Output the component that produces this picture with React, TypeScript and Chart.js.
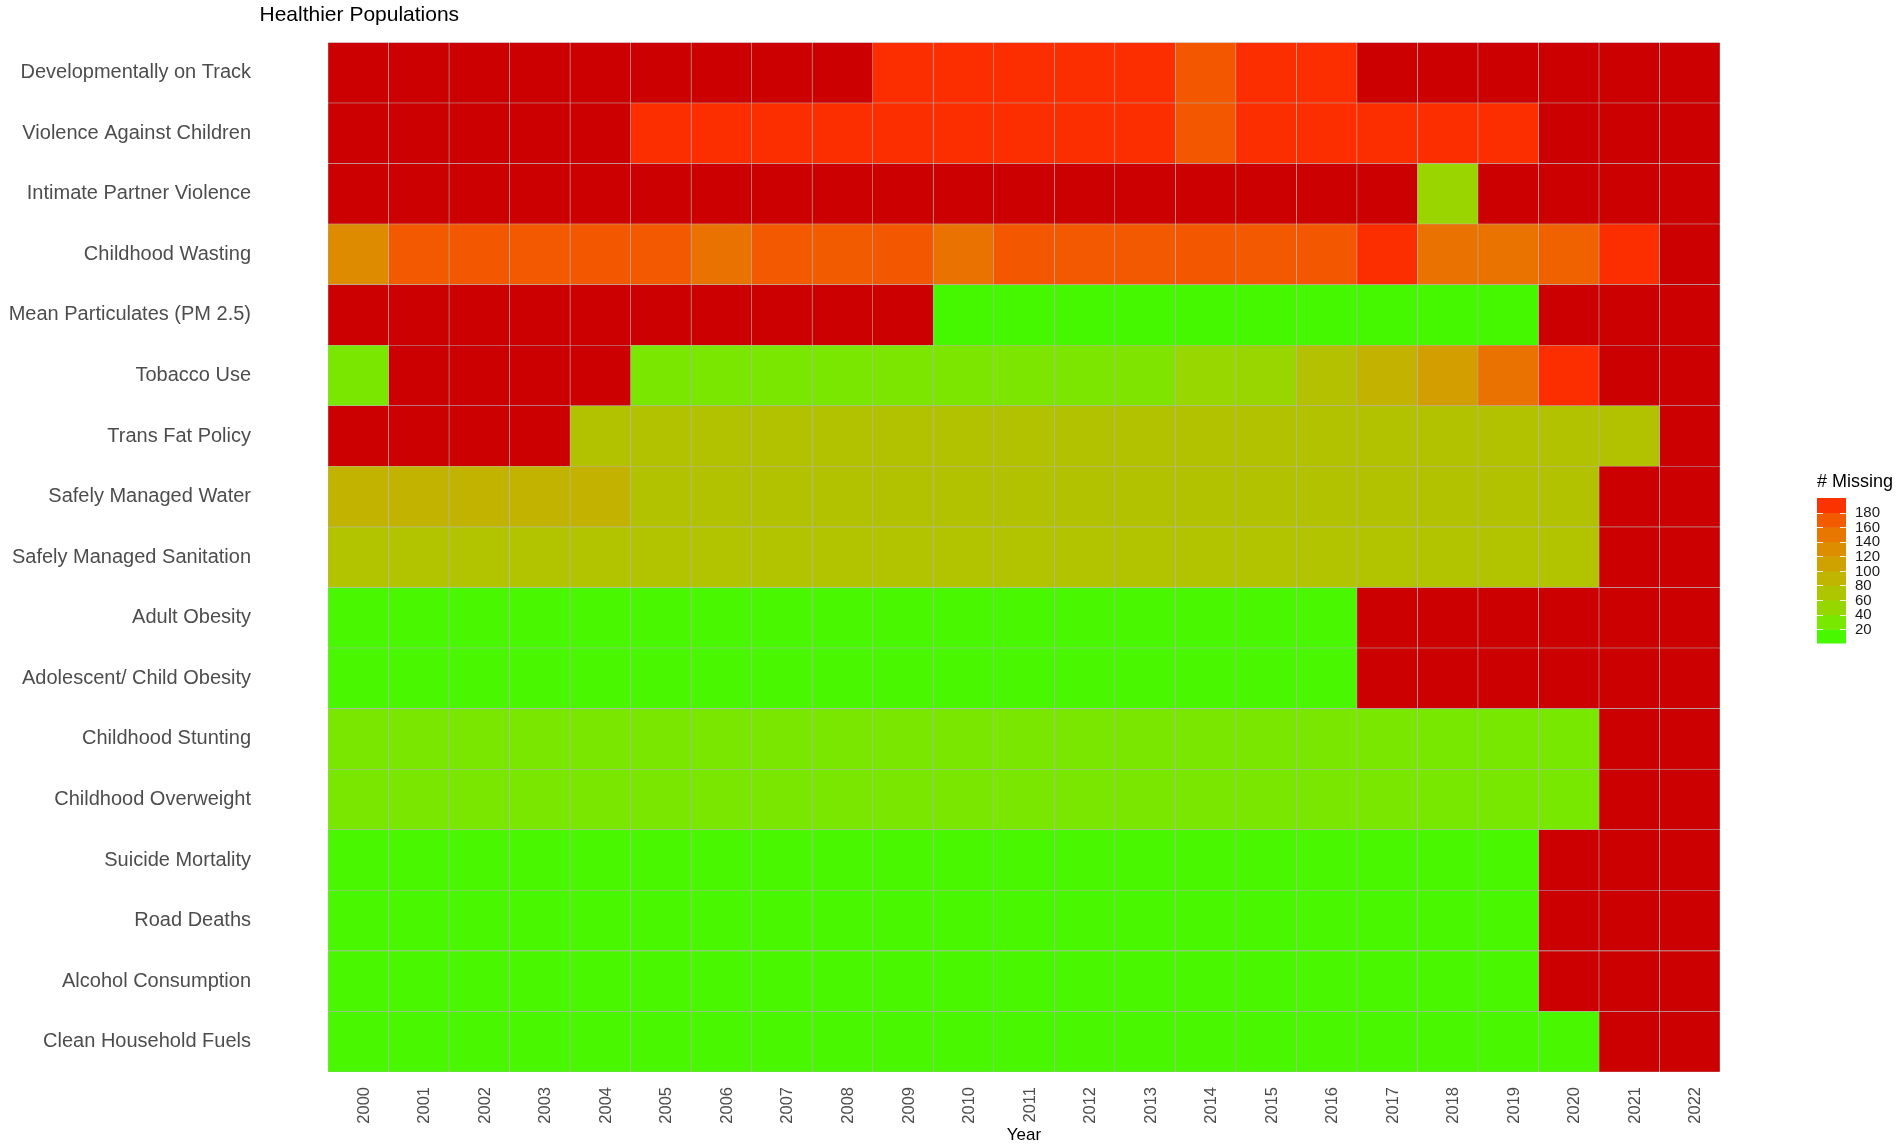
import React, { useEffect, useRef } from "react";
import { Chart, registerables } from "chart.js";

Chart.register(...registerables);

// ---------------- data ----------------
const years = [
  "2000", "2001", "2002", "2003", "2004", "2005", "2006", "2007", "2008", "2009", "2010", "2011",
  "2012", "2013", "2014", "2015", "2016", "2017", "2018", "2019", "2020", "2021", "2022",
];

const indicators = [
  "Developmentally on Track",
  "Violence Against Children",
  "Intimate Partner Violence",
  "Childhood Wasting",
  "Mean Particulates (PM 2.5)",
  "Tobacco Use",
  "Trans Fat Policy",
  "Safely Managed Water",
  "Safely Managed Sanitation",
  "Adult Obesity",
  "Adolescent/ Child Obesity",
  "Childhood Stunting",
  "Childhood Overweight",
  "Suicide Mortality",
  "Road Deaths",
  "Alcohol Consumption",
  "Clean Household Fuels",
];

const N = null;
// "# Missing" per year 2000..2022 (null = no data at all)
const developmentallyOnTrack = [N, N, N, N, N, N, N, N, N, 192, 192, 192, 192, 192, 172, 192, 192, N, N, N, N, N, N];
const violenceAgainstChildren = [N, N, N, N, N, 192, 192, 192, 192, 192, 192, 192, 192, 192, 172, 192, 192, 192, 192, 192, N, N, N];
const intimatePartnerViolence = [N, N, N, N, N, N, N, N, N, N, N, N, N, N, N, N, N, N, 53, N, N, N, N];
const childhoodWasting = [132, 171, 172, 171, 172, 171, 154, 171, 170, 172, 154, 172, 171, 171, 172, 171, 172, 192, 154, 153, 166, 192, N];
const meanParticulates = [N, N, N, N, N, N, N, N, N, N, 10, 10, 10, 10, 10, 10, 10, 10, 10, 10, N, N, N];
const tobaccoUse = [31, N, N, N, N, 31, 31, 31, 31, 32, 32, 32, 32, 34, 51, 52, 76, 93, 114, 154, 192, N, N];
const transFatPolicy = [N, N, N, N, 75, 75, 75, 75, 75, 75, 75, 75, 75, 75, 75, 75, 75, 75, 75, 75, 75, 75, N];
const safelyManagedWater = [92, 92, 92, 92, 93, 75, 75, 75, 75, 75, 75, 75, 75, 75, 75, 75, 75, 75, 75, 75, 75, N, N];
const safelyManagedSanitation = [74, 74, 74, 74, 74, 74, 74, 74, 74, 74, 74, 74, 74, 74, 74, 74, 74, 74, 74, 74, 74, N, N];
const adultObesity = [11, 11, 11, 11, 11, 11, 11, 11, 11, 11, 11, 11, 11, 11, 11, 11, 11, N, N, N, N, N, N];
const adolescentChildObesity = [11, 11, 11, 11, 11, 11, 11, 11, 11, 11, 11, 11, 11, 11, 11, 11, 11, N, N, N, N, N, N];
const childhoodStunting = [31, 31, 31, 31, 31, 31, 31, 31, 31, 31, 31, 31, 31, 31, 31, 31, 31, 31, 30, 30, 30, N, N];
const childhoodOverweight = [31, 31, 31, 31, 31, 31, 31, 31, 31, 31, 31, 31, 31, 31, 31, 31, 31, 31, 30, 30, 30, N, N];
const suicideMortality = [11, 11, 11, 11, 11, 11, 11, 11, 11, 11, 11, 11, 11, 11, 11, 11, 11, 11, 11, 11, N, N, N];
const roadDeaths = [11, 11, 11, 11, 11, 11, 11, 11, 11, 11, 11, 11, 11, 11, 11, 11, 11, 11, 11, 11, N, N, N];
const alcoholConsumption = [11, 11, 11, 11, 11, 11, 11, 11, 11, 11, 11, 11, 11, 11, 11, 11, 11, 11, 11, 11, N, N, N];
const cleanHouseholdFuels = [11, 11, 11, 11, 11, 11, 11, 11, 11, 11, 11, 11, 11, 11, 11, 11, 11, 11, 11, 11, 11, N, N];

const missingByIndicator = [
  developmentallyOnTrack,
  violenceAgainstChildren,
  intimatePartnerViolence,
  childhoodWasting,
  meanParticulates,
  tobaccoUse,
  transFatPolicy,
  safelyManagedWater,
  safelyManagedSanitation,
  adultObesity,
  adolescentChildObesity,
  childhoodStunting,
  childhoodOverweight,
  suicideMortality,
  roadDeaths,
  alcoholConsumption,
  cleanHouseholdFuels,
];

const legendTicks = [20, 40, 60, 80, 100, 120, 140, 160, 180];
const scaleLimits = [1, 200];

// ---------------- colour scale (Lab interpolation like ggplot) ----------------
const LOW = "#00FF00";
const HIGH = "#FF0000";
const NA_COLOR = "#CC0000";
const FONT = '"Liberation Sans", Arial, Helvetica, sans-serif';

function toLin(c: number) {
  c /= 255;
  return c <= 0.04045 ? c / 12.92 : Math.pow((c + 0.055) / 1.055, 2.4);
}
function fromLin(c: number) {
  const v = c <= 0.0031308 ? 12.92 * c : 1.055 * Math.pow(Math.max(c, 0), 1 / 2.4) - 0.055;
  return Math.round(Math.max(0, Math.min(1, v)) * 255);
}
const XN = 0.95047, YN = 1.0, ZN = 1.08883;
function hexToLab(hex: string) {
  const r = toLin(parseInt(hex.slice(1, 3), 16));
  const g = toLin(parseInt(hex.slice(3, 5), 16));
  const b = toLin(parseInt(hex.slice(5, 7), 16));
  const X = 0.4124 * r + 0.3576 * g + 0.1805 * b;
  const Y = 0.2126 * r + 0.7152 * g + 0.0722 * b;
  const Z = 0.0193 * r + 0.1192 * g + 0.9505 * b;
  const f = (t: number) => (t > 0.008856 ? Math.cbrt(t) : 7.787 * t + 16 / 116);
  const fx = f(X / XN), fy = f(Y / YN), fz = f(Z / ZN);
  return [116 * fy - 16, 500 * (fx - fy), 200 * (fy - fz)];
}
function labToRgb(L: number, a: number, bb: number) {
  const fy = (L + 16) / 116;
  const fx = fy + a / 500;
  const fz = fy - bb / 200;
  const inv = (t: number) => (t * t * t > 0.008856 ? t * t * t : (t - 16 / 116) / 7.787);
  const X = XN * inv(fx), Y = YN * inv(fy), Z = ZN * inv(fz);
  const r = 3.2406 * X - 1.5372 * Y - 0.4986 * Z;
  const g = -0.9689 * X + 1.8758 * Y + 0.0415 * Z;
  const b = 0.0557 * X - 0.204 * Y + 1.057 * Z;
  return `rgb(${fromLin(r)},${fromLin(g)},${fromLin(b)})`;
}
const lowLab = hexToLab(LOW);
const highLab = hexToLab(HIGH);
function colorFor(v: number | null) {
  if (v === null || v === undefined) return NA_COLOR;
  const t = Math.max(0, Math.min(1, (v - scaleLimits[0]) / (scaleLimits[1] - scaleLimits[0])));
  return labToRgb(
    lowLab[0] + (highLab[0] - lowLab[0]) * t,
    lowLab[1] + (highLab[1] - lowLab[1]) * t,
    lowLab[2] + (highLab[2] - lowLab[2]) * t
  );
}

// ---------------- plugin: title + colourbar legend ----------------
const decorPlugin = {
  id: "decor",
  afterDraw(chart: any) {
    const ctx = chart.ctx as CanvasRenderingContext2D;
    ctx.save();
    ctx.fillStyle = "#000000";
    ctx.textAlign = "left";
    ctx.textBaseline = "middle";
    ctx.font = `21px ${FONT}`;
    ctx.fillText("Healthier Populations", 259.5, 15);

    // legend
    ctx.font = `18px ${FONT}`;
    ctx.fillText("# Missing", 1817, 482);
    const barX = 1817, barW = 29, barTop = 498, barBottom = 643;
    const yOf = (v: number) =>
      barBottom - ((v - scaleLimits[0]) / (scaleLimits[1] - scaleLimits[0])) * (barBottom - barTop);
    const edges = [scaleLimits[0], ...legendTicks, scaleLimits[1]];
    for (let i = 0; i < edges.length - 1; i++) {
      const y0 = yOf(edges[i]);
      const y1 = yOf(edges[i + 1]);
      ctx.fillStyle = colorFor((edges[i] + edges[i + 1]) / 2);
      ctx.fillRect(barX, y1, barW, y0 - y1 + 0.5);
    }
    ctx.strokeStyle = "rgba(255,255,255,0.9)";
    ctx.lineWidth = 1;
    ctx.font = `15px ${FONT}`;
    for (const t of legendTicks) {
      const y = Math.round(yOf(t)) + 0.5;
      ctx.beginPath();
      ctx.moveTo(barX, y);
      ctx.lineTo(barX + 6, y);
      ctx.moveTo(barX + barW - 6, y);
      ctx.lineTo(barX + barW, y);
      ctx.stroke();
      ctx.fillStyle = "#1a1a1a";
      ctx.fillText(String(t), 1855, yOf(t) + 0.5);
    }
    ctx.restore();
  },
};

export default function App() {
  const canvasRef = useRef<HTMLCanvasElement | null>(null);

  useEffect(() => {
    if (!canvasRef.current) return;
    Chart.defaults.font.family = FONT;

    const datasets = years.map((yr, j) => ({
      label: yr,
      data: indicators.map(() => 1),
      backgroundColor: missingByIndicator.map((row) => colorFor(row[j])),
      borderColor: "#b4b4b4",
      borderWidth: 0.6,
      borderSkipped: false as const,
      barPercentage: 1,
      categoryPercentage: 1,
    }));

    const chart = new Chart(canvasRef.current, {
      type: "bar",
      data: { labels: indicators, datasets },
      options: {
        indexAxis: "y",
        responsive: false,
        animation: false,
        events: [],
        layout: { padding: { left: 0, top: 42.4, right: 181, bottom: 0 } },
        plugins: {
          legend: { display: false },
          tooltip: { enabled: false },
          title: { display: false },
        },
        scales: {
          x: {
            type: "linear",
            stacked: true,
            min: 0,
            max: years.length,
            grid: { display: false, drawTicks: false },
            border: { display: false },
            afterBuildTicks: (scale: any) => {
              scale.ticks = years.map((_, i) => ({ value: i + 0.5 }));
            },
            afterFit: (scale: any) => {
              scale.height = 76;
              scale.paddingLeft = 0;
              scale.paddingRight = 0;
              scale.paddingTop = 0;
              scale.paddingBottom = 0;
            },
            ticks: {
              autoSkip: false,
              minRotation: 90,
              maxRotation: 90,
              padding: 15,
              labelOffset: 6,
              color: "#4d4d4d",
              font: { size: 16.5, family: FONT },
              callback: (_v: any, i: number) => years[i],
            },
            title: {
              display: true,
              text: "Year",
              color: "#000000",
              font: { size: 17, family: FONT },
              padding: { top: 0, bottom: 2.5 },
            },
          },
          y: {
            type: "category",
            stacked: true,
            grid: { display: false, drawTicks: false },
            border: { display: false },
            afterFit: (scale: any) => {
              scale.width = 328;
              scale.paddingLeft = 0;
              scale.paddingRight = 0;
              scale.paddingTop = 0;
              scale.paddingBottom = 0;
            },
            ticks: {
              padding: 77,
              color: "#4d4d4d",
              font: { size: 20, family: FONT },
            },
          },
        },
      },
      plugins: [decorPlugin],
    } as any);

    return () => chart.destroy();
  }, []);

  return (
    <div style={{ position: "absolute", left: 0, top: 0, width: 1901, height: 1148, background: "#ffffff" }}>
      <canvas ref={canvasRef} width={1901} height={1148} style={{ width: 1901, height: 1148, display: "block" }} />
    </div>
  );
}
